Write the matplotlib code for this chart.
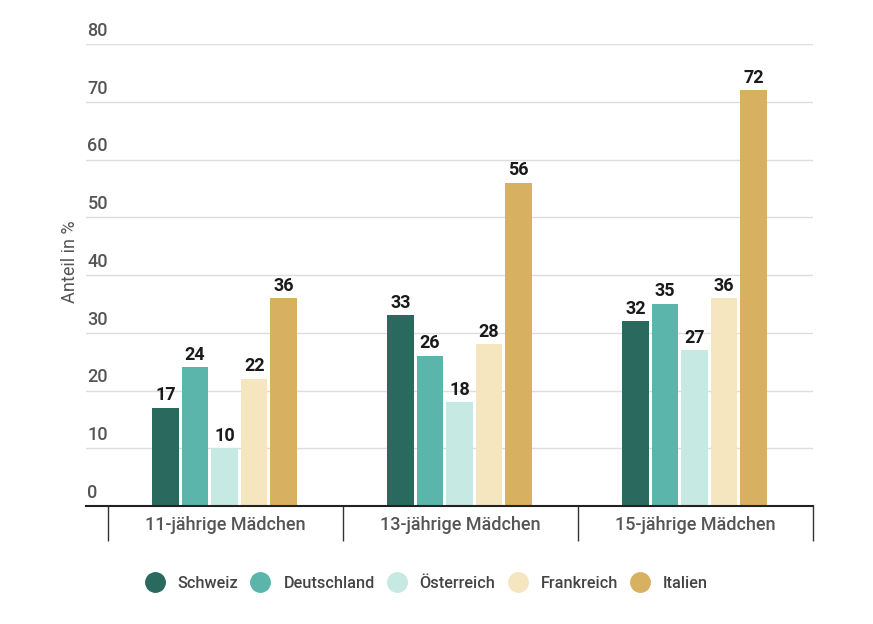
import matplotlib
matplotlib.use("Agg")
import matplotlib.pyplot as plt
from matplotlib.lines import Line2D
import numpy as np

plt.rcParams['font.family'] = ['Roboto', 'DejaVu Sans']

categories = ["11-jährige Mädchen", "13-jährige Mädchen", "15-jährige Mädchen"]
series_names = ["Schweiz", "Deutschland", "Österreich", "Frankreich", "Italien"]
schweiz = [17, 33, 32]
deutschland = [24, 26, 35]
oesterreich = [10, 18, 27]
frankreich = [22, 28, 36]
italien = [36, 56, 72]
values = [schweiz, deutschland, oesterreich, frankreich, italien]
colors = ["#2a6a5e", "#5bb5aa", "#c6eae3", "#f5e6c0", "#d8b062"]
yticks = [0, 10, 20, 30, 40, 50, 60, 70, 80]

fig = plt.figure(figsize=(8.73, 6.24), dpi=100)
ax = fig.add_axes([86/873, 1-506/624, (813-86)/873, (506-44)/624])

x = np.arange(len(categories))
slot = 29.5/235
bw = 26.5/235
for i, (name, vals, c) in enumerate(zip(series_names, values, colors)):
    pos = x + (i - 2) * slot - 0.004
    ax.bar(pos, vals, width=bw, color=c, label=name, zorder=3)
    for xp, v in zip(pos, vals):
        ax.annotate(str(v), (xp, v), xytext=(0, 2.5), textcoords="offset points",
                    ha="center", va="bottom", fontsize=13, fontweight="bold",
                    color="#1a1a1a", zorder=4)

ax.set_xlim(-0.594, 2.5)
ax.set_ylim(0, 80)
for s in ["top", "right", "left"]:
    ax.spines[s].set_visible(False)
ax.spines["bottom"].set_color("#222222")
ax.spines["bottom"].set_linewidth(1.5)
ax.spines["bottom"].set_zorder(5)

ax.set_yticks(yticks)
ax.yaxis.grid(True, color="#dddddd", linewidth=1, zorder=0)
ax.tick_params(axis="y", length=0, labelleft=False)
for t in yticks:
    ax.annotate(str(t), (0, t), xycoords=("axes fraction", "data"),
                xytext=(1, 3), textcoords="offset points", ha="left", va="bottom",
                fontsize=13, fontweight="medium", color="#555555")

ax.set_xticks(x)
ax.set_xticklabels(categories, fontsize=13, fontweight="medium", color="#555555")
ax.tick_params(axis="x", which="major", length=0, pad=7)
ax.set_xticks([-0.5, 0.5, 1.5, 2.5], minor=True)
ax.tick_params(axis="x", which="minor", length=25, width=1, color="#333333", direction="out")

ax.set_ylabel("Anteil in %", fontsize=13, color="#555555")
ax.yaxis.set_label_coords(-0.010, 0.528)

handles = [Line2D([0], [0], marker="o", linestyle="", markersize=14,
                  markerfacecolor=c, markeredgecolor=c) for c in colors]
fig.legend(handles, series_names, loc="center", bbox_to_anchor=(0.4885, 1-583/624),
           ncol=5, frameon=False, prop={"size": 11.7, "weight": "medium"}, labelcolor="#444444",
           handletextpad=0.82, columnspacing=0.75, handlelength=1.2)

fig.savefig("out.png", dpi=100)
